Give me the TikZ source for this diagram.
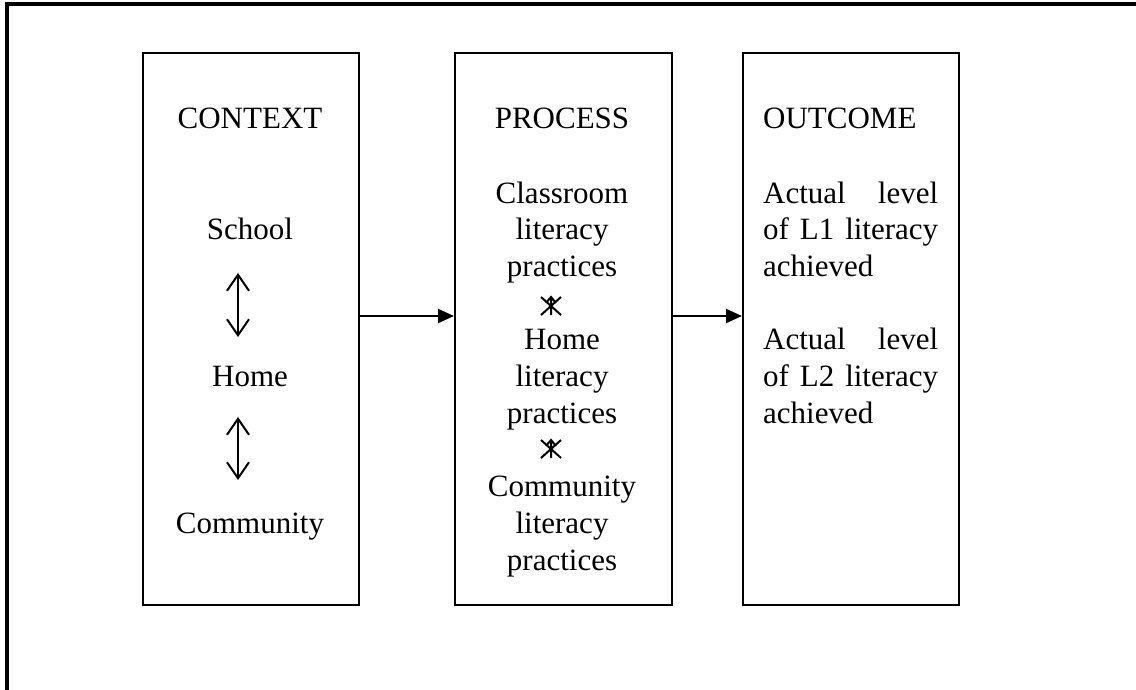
\documentclass[tikz,border=0pt]{standalone}
\usepackage{fontspec}
\setmainfont{Liberation Serif}
\usetikzlibrary{arrows.meta}
\begin{document}
\begin{tikzpicture}[x=1pt,y=-1pt,
  box/.style={draw,line width=2pt,inner sep=0pt,minimum width=216pt,minimum height=552pt,anchor=north west},
  txt/.style={font=\fontsize{31}{37}\selectfont,inner sep=0pt,anchor=base},
  ltxt/.style={txt,anchor=base west},
  flow/.style={line width=2pt,-{Triangle[length=16pt,width=14pt]}},
  link/.style={line width=2pt,{Straight Barb[length=16pt,width=22pt]}-{Straight Barb[length=16pt,width=22pt]}},
  xmark/.style={line width=2pt},
]
\useasboundingbox (0,0) rectangle (1136,689);
\draw[line width=4pt,line join=miter] (7,700) -- (7,4) -- (1140,4);

\node[box] (ctx) at (142,52) {};
\node[box,minimum width=217pt] (proc) at (454,52) {};
\node[box] (out) at (742,52) {};

\coordinate (ay) at (0,316);
\draw[flow] (ctx.east |- ay) -- (proc.west |- ay);
\draw[flow] (proc.east |- ay) -- (out.west |- ay);

% context
\node[txt] (cH) at (250,128) {CONTEXT};
\node[txt] (school) at (250,239.7) {School};
\node[txt] (home) at (250,386.5) {Home};
\node[txt] (comm) at (250,533.3) {Community};
\coordinate (a1t) at (238,273);
\coordinate (a1b) at (238,337);
\coordinate (a2t) at (238,417);
\coordinate (a2b) at (238,480);
\draw[link] (a1t) -- (a1b);
\draw[link] (a2t) -- (a2b);

% process
\node[txt] (pH) at (562,128) {PROCESS};
\node[txt] (p1) at (562,203) {Classroom};
\node[txt] (p2) at (562,239.7) {literacy};
\node[txt] (p3) at (562,276.4) {practices};
\node[txt] (p4) at (562,349.8) {Home};
\node[txt] (p5) at (562,386.5) {literacy};
\node[txt] (p6) at (562,423.2) {practices};
\node[txt] (p7) at (562,496.6) {Community};
\node[txt] (p8) at (562,533.3) {literacy};
\node[txt] (p9) at (562,570) {practices};
\draw[xmark] (541,297) -- (561,315) (541,315) -- (561,297) (551,297) -- (551,315) (546,303) -- (551,297) -- (556,303);
\draw[xmark] (541,440) -- (561,458) (541,458) -- (561,440) (551,440) -- (551,458) (546,446) -- (551,440) -- (556,446);

% outcome
\node[ltxt] (oH) at (763,128) {OUTCOME};
\node[ltxt,text width=175pt,align=left] (o1) at (763,203) {Actual\hfill level};
\node[ltxt,text width=175pt,align=left] (o2) at (763,239.7) {of\hfill L1\hfill literacy};
\node[ltxt] (o3) at (763,276.4) {achieved};
\node[ltxt,text width=175pt,align=left] (o4) at (763,349.8) {Actual\hfill level};
\node[ltxt,text width=175pt,align=left] (o5) at (763,386.5) {of\hfill L2\hfill literacy};
\node[ltxt] (o6) at (763,423.2) {achieved};
\end{tikzpicture}
\end{document}
